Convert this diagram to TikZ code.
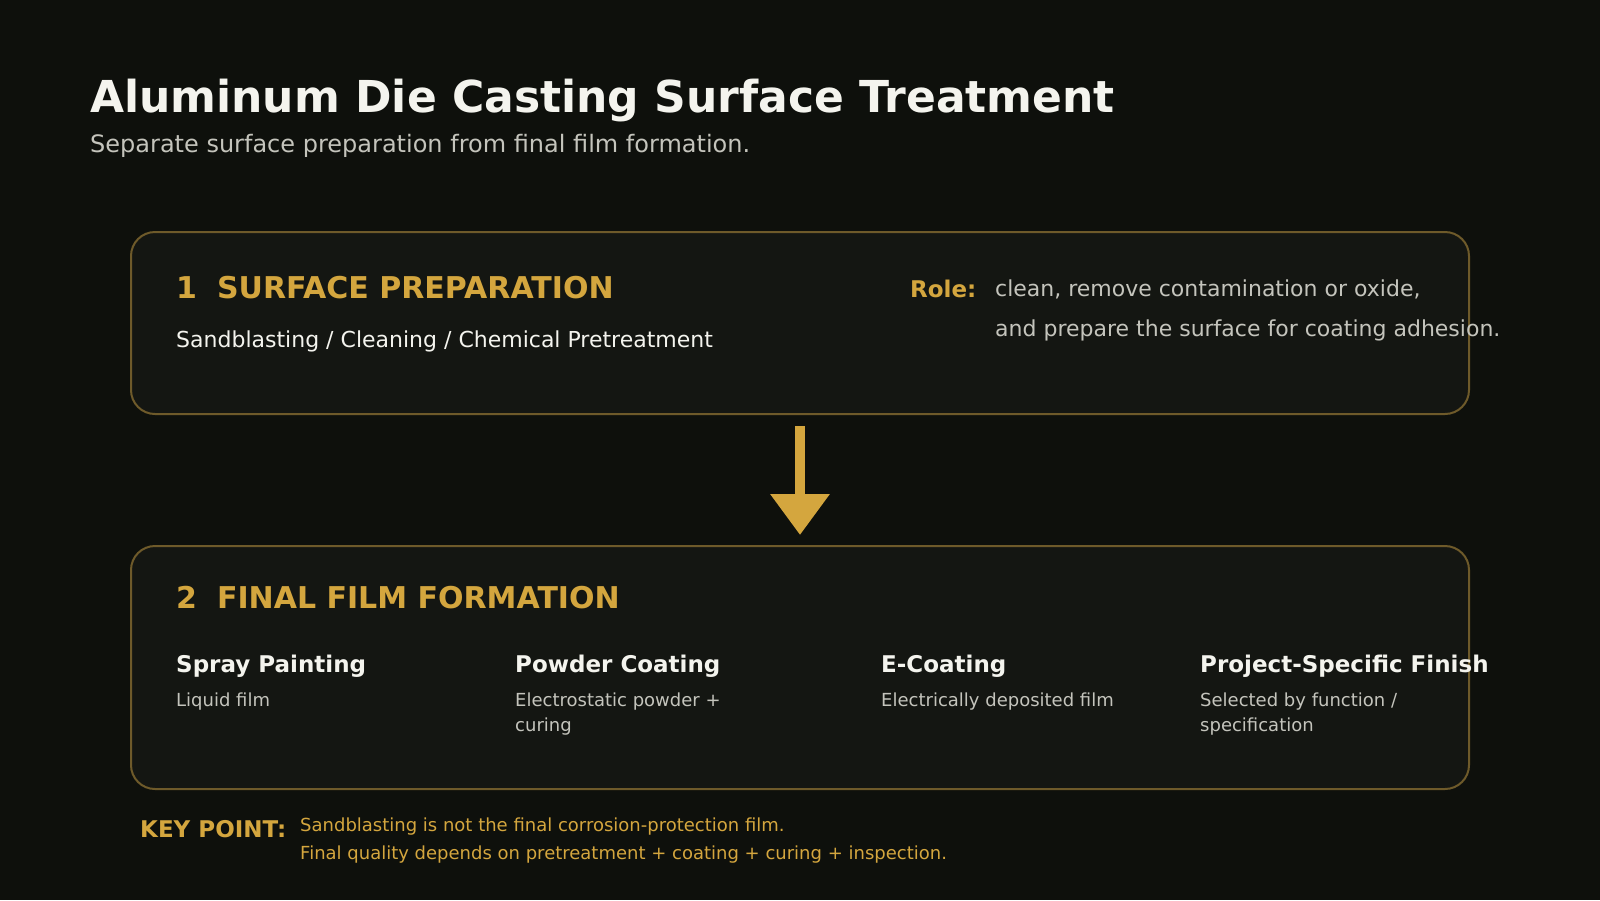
\documentclass[tikz,border=0pt]{standalone}
\usepackage{fontspec}
\setmainfont{DejaVu Sans}
\usetikzlibrary{arrows.meta,positioning}
\definecolor{bgdark}{HTML}{0E100C}
\definecolor{panelfill}{HTML}{141612}
\definecolor{panelline}{HTML}{6E5A2A}
\definecolor{gold}{HTML}{D4A63E}
\definecolor{offwhite}{HTML}{F4F4EE}
\definecolor{softgray}{HTML}{C4C4BC}
\newcommand{\pxfont}[2]{\fontsize{#1}{#2}\selectfont}
\begin{document}
\begin{tikzpicture}[x=1pt,y=-1pt]%
    \tikzstyle{every node}=[inner sep=0pt,anchor=base west];%%
    \tikzstyle{panel}=[draw=panelline,fill=panelfill,line width=2pt,rounded corners=24pt,minimum width=1338pt,anchor=center];%%
    \tikzstyle{phase}=[text=gold,font=\bfseries\pxfont{30}{36}];%%
    \tikzstyle{method}=[text=offwhite,font=\bfseries\pxfont{23}{26}];%%
    \tikzstyle{note}=[text=softgray,font=\pxfont{18}{25},align=left];%%
    % background and frame
    \fill[bgdark] (0,0) rectangle (1600,900);%%
    \useasboundingbox (0,0) rectangle (1600,900);%%
    % title
    \node[text=offwhite,font=\bfseries\pxfont{44}{52}] (title) at (90,112) {Aluminum Die Casting Surface Treatment};%%
    \node[text=softgray,font=\pxfont{24}{28}] (subtitle) at (90,152) {Separate surface preparation from final film formation.};%%
    % panels
    \node[panel,minimum height=182pt] (prep) at (800,323) {};%%
    \node[panel,minimum height=243pt] (film) at (800,667.5) {};%%
    \draw[gold,line width=10pt,shorten <=11pt,shorten >=10pt,-{Triangle[length=41pt,width=57pt]}] (prep.south) -- (film.north);%%
    % step 1 (multi-line nodes sit on their last baseline)
    \node[phase] (prephead) at (176,298) {1\hspace{20pt}SURFACE PREPARATION};%%
    \node[text=offwhite,font=\pxfont{22}{26}] (prepsub) at (176,347) {Sandblasting / Cleaning / Chemical Pretreatment};%%
    \node[text=gold,font=\bfseries\pxfont{23}{26}] (role) at (910,297) {Role:};%%
    \node[text=softgray,font=\pxfont{22}{40},align=left] (roletext) at (995,336) {clean, remove contamination or oxide,\\and prepare the surface for coating adhesion.};%%
    % step 2
    \node[phase] (filmhead) at (176,608) {2\hspace{20pt}FINAL FILM FORMATION};%%
    \node[method] (m1) at (176,672) {Spray Painting};%%
    \node[method] (m2) at (515,672) {Powder Coating};%%
    \node[method] (m3) at (881,672) {E-Coating};%%
    \node[method] (m4) at (1200,672) {Project-Specific Finish};%%
    \node[note] (d1) at (176,706) {Liquid film};%%
    \node[note] (d2) at (515,731) {Electrostatic powder +\\curing};%%
    \node[note] (d3) at (881,706) {Electrically deposited film};%%
    \node[note] (d4) at (1200,731) {Selected by function /\\specification};%%
    % key point
    \node[text=gold,font=\bfseries\pxfont{23}{26}] (key) at (140,837) {KEY POINT:};%%
    \node[text=gold,font=\pxfont{18}{28},align=left] (keytext) at (300,859) {Sandblasting is not the final corrosion-protection film.\\Final quality depends on pretreatment + coating + curing + inspection.};%%
\end{tikzpicture}
\end{document}
